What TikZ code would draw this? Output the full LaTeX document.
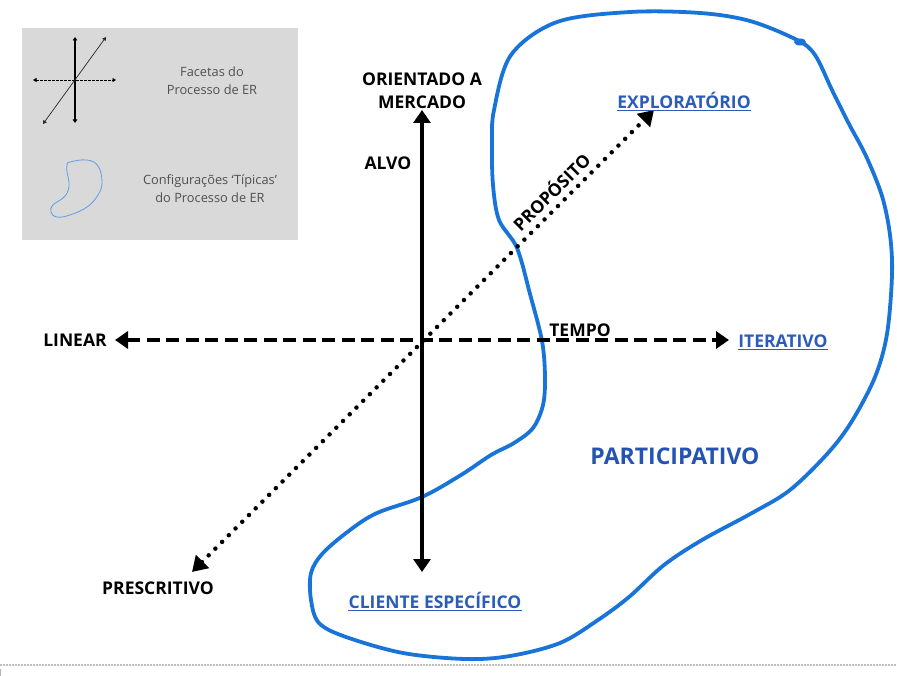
\documentclass[tikz,border=0pt]{standalone}
\usepackage{fontspec}
\setmainfont{Open Sans}
\usetikzlibrary{arrows.meta}
\definecolor{legendgray}{HTML}{D9D9D9}
\definecolor{legendtext}{HTML}{505050}
\definecolor{blobblue}{HTML}{1874D8}
\definecolor{labelblue}{HTML}{2A5CB8}
\definecolor{partblue}{HTML}{2453B4}
\tikzset{
  lbl/.style={font=\fontsize{17.5}{23}\selectfont\bfseries, text=black, inner sep=0pt, align=center},
  bluelbl/.style={font=\fontsize{17.5}{23}\selectfont\bfseries, text=labelblue, inner sep=0pt},
  legtxt/.style={font=\fontsize{12.8}{18}\selectfont, text=legendtext, align=center, inner sep=0pt},
  solidaxis/.style={line width=3.5pt, {Triangle[width=17pt,length=13pt]}-{Triangle[width=17pt,length=13pt]}},
  dashaxis/.style={line width=3.5pt, dash pattern=on 13pt off 6.5pt, {Triangle[width=17pt,length=13pt]}-{Triangle[width=17pt,length=13pt]}},
  dotaxis/.style={line width=4.5pt, line cap=round, dash pattern=on 0pt off 9.5pt, {Triangle[width=18pt,length=15pt]}-{Triangle[width=18pt,length=15pt]}},
  blob/.style={draw=blobblue, line width=3.8pt, line join=round},
  uline/.style={line width=1pt}
}
\begin{document}
\begin{tikzpicture}[x=1pt,y=-1pt]
\useasboundingbox (0,0) rectangle (897,676);
% legend box
\fill[legendgray] (22,28) rectangle (298,240);
\coordinate (lvt) at (75,37);
\coordinate (lvb) at (75,123);
\coordinate (lhl) at (33,80);
\coordinate (lhr) at (116,80);
\coordinate (ldl) at (43,124);
\coordinate (ldr) at (106,37);
\draw[line width=1.5pt, {Triangle[width=4.5pt,length=3.5pt]}-{Triangle[width=4.5pt,length=3.5pt]}] (lvb) -- (lvt);
\draw[line width=0.9pt, dash pattern=on 2.5pt off 1.5pt, {Triangle[width=4pt,length=3.5pt]}-{Triangle[width=4pt,length=3.5pt]}] (lhl) -- (lhr);
\draw[line width=0.7pt, black!85, {Triangle[width=4pt,length=3.5pt]}-{Triangle[width=4pt,length=3.5pt]}] (ldl) -- (ldr);
\node[legtxt] (leg1) at (212,81) {Facetas do\\Processo de ER};
\draw[draw=blobblue!70, line width=0.8pt] plot[smooth cycle, tension=0.7] coordinates {
 (70,162) (87,160) (98,166) (102,182) (98,195) (87,207) (70,215) (57,217) (51,212) (53,205) (63,198) (68,191) (69,182) (67,172) (67,165)};
\node[legtxt] (leg2) at (210,189) {Configurações ‘Típicas’\\do Processo de ER};
% blob
\draw[blob] plot[smooth cycle, tension=0.55] coordinates {
 (494,110) (511,55) (557,22) (630,12) (700,13) (750,21) (797,40) (815,55) (832,90) (849,124) (866,156) (882,196) (890,235) (892,275) (887,334) (875,377) (852,421) (828,453) (790,490) (752,513) (702,540) (664,565) (629,597) (598,620) (560,643) (510,656) (465,659) (403,653) (346,637) (319,623) (311,600) (311,573) (323,553) (350,530) (377,513) (422,497) (461,475) (491,455) (514,443) (533,428) (543,405) (545,377) (542,341) (530,294) (517,248) (499,220) (493,185) (492,145)};
\fill[blobblue] (800,42) ellipse (6pt and 3.5pt);
% axes
\coordinate (O) at (422,340);
\coordinate (up) at (422,110);
\coordinate (down) at (422,572);
\coordinate (left) at (115,340);
\coordinate (right) at (729,340);
\coordinate (dl) at (192,572);
\coordinate (ur) at (654,110);
\draw[dotaxis] (dl) -- node[pos=0.8, sloped, above=5pt, font=\fontsize{17.5}{20}\selectfont\bfseries, inner sep=0pt] (prop) {PROPÓSITO} (ur);
\draw[dashaxis] (left) -- (right);
\draw[solidaxis] (down) -- (up);
% labels
\node[lbl] (orient) at (422,91) {ORIENTADO A\\MERCADO};
\node[lbl] (alvo) at (388,163) {ALVO};
\node[lbl] (linear) at (75,340) {LINEAR};
\node[lbl] (tempo) at (580,330) {TEMPO};
\node[lbl] (presc) at (158,588) {PRESCRITIVO};
\node[bluelbl] (iter) at (783,341) {ITERATIVO};
\node[bluelbl] (explo) at (684,100) {EXPLORATÓRIO};
\node[bluelbl] (cliente) at (435,600) {CLIENTE ESPECÍFICO};
\node[font=\fontsize{23}{27}\selectfont\bfseries, text=partblue, inner sep=0pt] (part) at (675,456) {PARTICIPATIVO};
\foreach \n in {iter,explo,cliente}{
  \draw[labelblue, uline] ([yshift=-2.5pt]\n.base west) -- ([yshift=-2.5pt]\n.base east);
}
% bottom page marks
\draw[gray!50, line width=1.5pt, dash pattern=on 1.5pt off 1.5pt] (0,665) -- (897,665);
\draw[gray!60, line width=1pt] (0.5,669) -- (0.5,676);
\end{tikzpicture}
\end{document}
